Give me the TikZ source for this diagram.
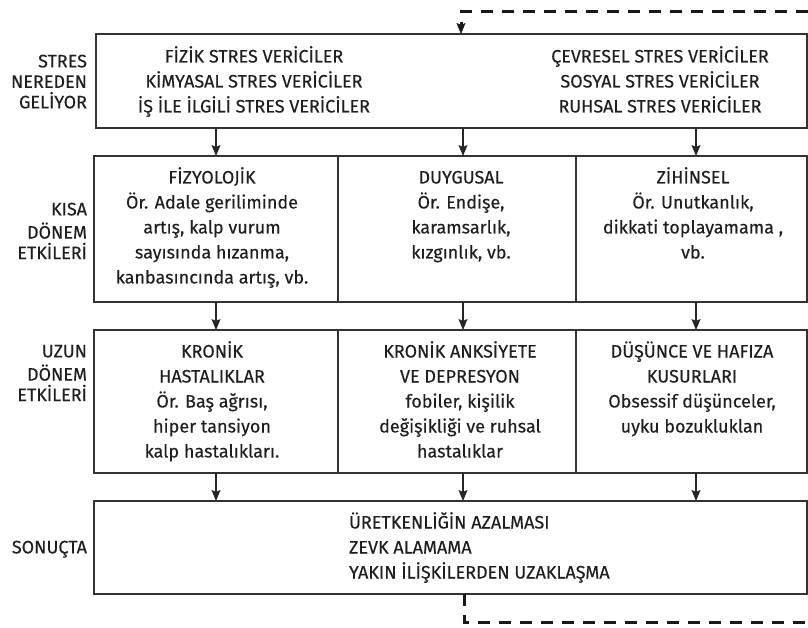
\documentclass[tikz,border=0pt]{standalone}
\usepackage{fontspec}
\setmainfont{Fira Sans}[FakeBold=0.25]
\usetikzlibrary{arrows.meta}
\begin{document}
\begin{tikzpicture}[x=1pt,y=-1pt,
  every node/.style={inner sep=0pt, outer sep=0pt},
  box/.style={draw=black!80, line width=1.2pt, anchor=north west},
  txt/.style={font=\fontsize{18}{25}\selectfont, align=center, anchor=north, text=black!88},
  lbl/.style={font=\fontsize{18}{20.5}\selectfont, align=right, anchor=north east, text=black!88},
  arr/.style={draw=black!85, line width=1.2pt, -{Stealth[length=11pt,width=9pt,inset=2pt]}},
  fb/.style={draw=black!90, line width=3pt, dash pattern=on 12pt off 9pt,
     -{Stealth[length=11pt,width=9pt,inset=2pt,line width=0.5pt]}},
  fbline/.style={draw=black!90, line width=3pt, dash pattern=on 12pt off 9pt},
]
\useasboundingbox (0,0) rectangle (808,628);

% boxes
\node[box, minimum width=711pt, minimum height=94pt] (src) at (96,34) {};
\node[box, minimum width=244pt, minimum height=146pt] (r2a) at (94,156) {};
\node[box, minimum width=238pt, minimum height=146pt] (r2b) at (338,156) {};
\node[box, minimum width=231pt, minimum height=146pt] (r2c) at (576,156) {};
\node[box, minimum width=244pt, minimum height=143pt] (r3a) at (94,330) {};
\node[box, minimum width=238pt, minimum height=143pt] (r3b) at (338,330) {};
\node[box, minimum width=231pt, minimum height=143pt] (r3c) at (576,330) {};
\node[box, minimum width=713pt, minimum height=93pt] (res) at (94,501) {};

% left labels
\node[lbl] (l1) at (87,53) {\strut STRES\\NEREDEN\\GELİYOR};
\node[lbl] (l2) at (87,201) {\strut KISA\\DÖNEM\\ETKİLERİ};
\node[lbl] (l3) at (87,343) {\strut UZUN\\DÖNEM\\ETKİLERİ};
\node[lbl] (l4) at (87,539) {\strut SONUÇTA};

% texts
\node[txt] (tsL) at (254,45) {\strut FİZİK STRES VERİCİLER\\KİMYASAL STRES VERİCİLER\\İŞ İLE İLGİLİ STRES VERİCİLER};
\node[txt] (tsR) at (660,45) {\strut ÇEVRESEL STRES VERİCİLER\\SOSYAL STRES VERİCİLER\\RUHSAL STRES VERİCİLER};

\node[txt] (t2a) at (212,166) {\strut FİZYOLOJİK\\Ör. Adale geriliminde\\artış, kalp vurum\\sayısında hızanma,\\kanbasıncında artış, vb.};
\node[txt] (t2b) at (461,166) {\strut DUYGUSAL\\Ör. Endişe,\\karamsarlık,\\kızgınlık, vb.};
\node[txt] (t2c) at (693,166) {\strut ZİHİNSEL\\Ör. Unutkanlık,\\dikkati toplayamama ,\\vb.};

\node[txt] (t3a) at (212,340) {\strut KRONİK\\HASTALIKLAR\\Ör. Baş ağrısı,\\hiper tansiyon\\kalp hastalıkları.};
\node[txt] (t3b) at (460,340) {\strut KRONİK ANKSİYETE\\VE DEPRESYON\\fobiler, kişilik\\değişikliği ve ruhsal\\hastalıklar};
\node[txt] (t3c) at (692,340) {\strut DÜŞÜNCE VE HAFIZA\\KUSURLARI\\Obsessif düşünceler,\\uyku bozukluklan};

\node[txt, align=left, anchor=north west] (t4) at (349,511) {\strut ÜRETKENLİĞİN AZALMASI\\ZEVK ALAMAMA\\YAKIN İLİŞKİLERDEN UZAKLAŞMA};

% arrow x positions
\coordinate (xa) at (216,0);
\coordinate (xb) at (463,0);
\coordinate (xc) at (696,0);

\draw[arr] (src.south -| xa) -- (r2a.north -| xa);
\draw[arr] (src.south -| xb) -- (r2b.north -| xb);
\draw[arr] (src.south -| xc) -- (r2c.north -| xc);
\draw[arr] (r2a.south -| xa) -- (r3a.north -| xa);
\draw[arr] (r2b.south -| xb) -- (r3b.north -| xb);
\draw[arr] (r2c.south -| xc) -- (r3c.north -| xc);
\draw[arr] (r3a.south -| xa) -- (res.north -| xa);
\draw[arr] (r3b.south -| xb) -- (res.north -| xb);
\draw[arr] (r3c.south -| xc) -- (res.north -| xc);

% feedback loop
\coordinate (fbT) at (808,12);
\coordinate (fbIn) at (461,34);
\coordinate (fbOut) at (464,594);
\coordinate (fbB) at (808,622);
\draw[fb] (fbT) -| (src.north -| fbIn);
\draw[fbline] (res.south -| fbOut) |- (fbB);
\end{tikzpicture}
\end{document}
